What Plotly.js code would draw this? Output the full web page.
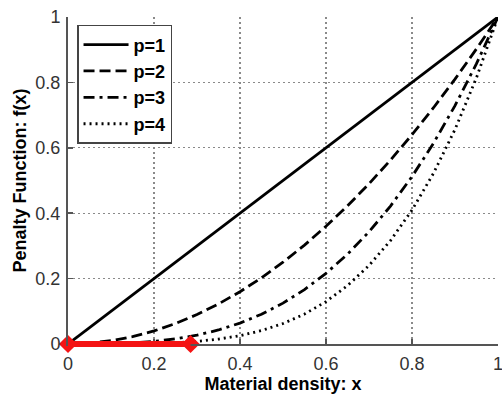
<!DOCTYPE html>
<html>
<head>
<meta charset="utf-8">
<script src="https://cdn.plot.ly/plotly-3.0.1.min.js"></script>
<style>html,body{margin:0;padding:0;background:#fff;}#chart{width:502px;height:395px;}</style>
</head>
<body>
<div id="chart"></div>
<script>
var xs = [0,0.05,0.1,0.15,0.2,0.25,0.3,0.35,0.4,0.45,0.5,0.55,0.6,0.65,0.7,0.75,0.8,0.85,0.9,0.95,1];
var p1 = [0,0.05,0.1,0.15,0.2,0.25,0.3,0.35,0.4,0.45,0.5,0.55,0.6,0.65,0.7,0.75,0.8,0.85,0.9,0.95,1];
var p2 = [0,0.0025,0.01,0.0225,0.04,0.0625,0.09,0.1225,0.16,0.2025,0.25,0.3025,0.36,0.4225,0.49,0.5625,0.64,0.7225,0.81,0.9025,1];
var p3 = [0,0.0001,0.001,0.0034,0.008,0.0156,0.027,0.0429,0.064,0.0911,0.125,0.1664,0.216,0.2746,0.343,0.4219,0.512,0.6141,0.729,0.8574,1];
var p4 = [0,0,0.0001,0.0005,0.0016,0.0039,0.0081,0.015,0.0256,0.041,0.0625,0.0915,0.1296,0.1785,0.2401,0.3164,0.4096,0.522,0.6561,0.8145,1];
var seriesNames = ["p=1","p=2","p=3","p=4"];
var redX = [0, 0.285];
var redY = [0, 0];
var tickVals = [0,0.2,0.4,0.6,0.8,1];
var tickText = ["0","0.2","0.4","0.6","0.8","1"];

var FONT = "Arial, 'Liberation Sans', sans-serif";
var RED = "#f41414";
var dashes = ["solid","11px,5px","11px,5px,3px,5px","2px,4px"];
var ys = [p1,p2,p3,p4];
var traces = ys.map(function(y,i){
  return {x: xs, y: y, mode: "lines", name: seriesNames[i],
    line: {color: "#000", width: 2.8, dash: dashes[i]}};
});
traces.push({x: redX, y: redY, mode: "markers", showlegend: false, cliponaxis: false,
  marker: {symbol: "diamond", size: 14, color: RED}});

var axisCommon = {
  range: [0,1], tickvals: tickVals, ticktext: tickText,
  showgrid: true, gridcolor: "#8a8a8a", griddash: "1.5px,3.5px", gridwidth: 1.2,
  zeroline: false, showline: true, linecolor: "#555", linewidth: 2,
  ticks: "inside", ticklen: 5, tickcolor: "#555", tickwidth: 1.5,
  ticklabeloverflow: "allow",
  tickfont: {family: FONT, size: 18, color: "#333"}
};
var layout = {
  width: 502, height: 395,
  margin: {l: 68, r: 4, t: 17, b: 51},
  paper_bgcolor: "#fff", plot_bgcolor: "#fff",
  showlegend: true,
  legend: {x: 0.021, y: 0.976, xanchor: "left", yanchor: "top",
    bordercolor: "#444", borderwidth: 1.5, bgcolor: "#fff",
    font: {family: FONT, size: 18, color: "#000", weight: "bold"},
    itemwidth: 45, tracegroupgap: 0},
  shapes: [{type: "line", xref: "x", yref: "paper", layer: "above",
    x0: redX[0], x1: redX[1], y0: 0, y1: 0,
    line: {color: RED, width: 6}}],
  xaxis: Object.assign({}, axisCommon, {
    ticklabelstandoff: 2,
    title: {text: "<b>Material density: x</b>", standoff: 2,
      font: {family: FONT, size: 18, color: "#000"}}
  }),
  yaxis: Object.assign({}, axisCommon, {
    ticklabelstandoff: 2,
    title: {text: "<b>Penalty Function: f(x)</b>", standoff: 4,
      font: {family: FONT, size: 18, color: "#000"}}
  })
};
Plotly.newPlot("chart", traces, layout, {displayModeBar: false, staticPlot: true});
</script>
</body>
</html>
